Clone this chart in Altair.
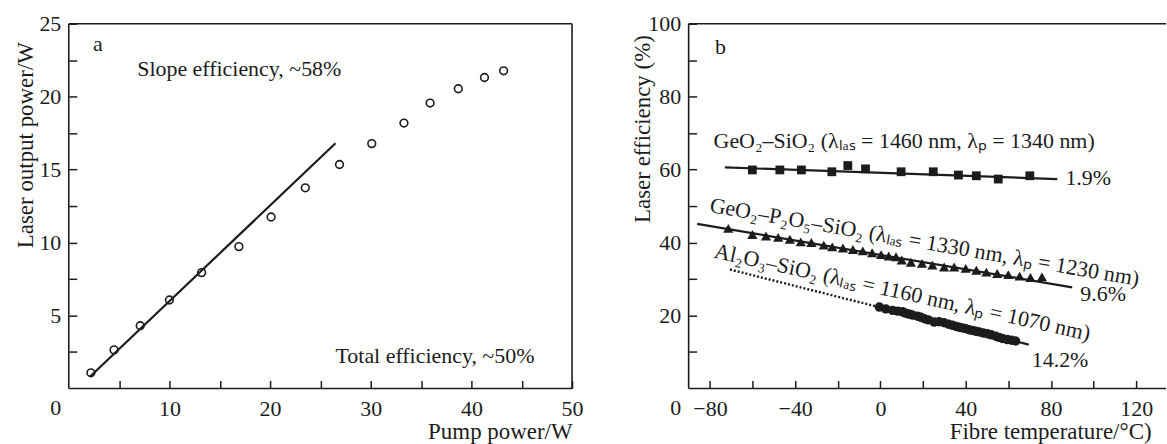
import altair as alt
import pandas as pd

FONT = "Liberation Serif"
INK = "#1c1c1c"

# ---------------- panel a ----------------
pump_power = [2.2, 4.5, 7.1, 10.0, 13.2, 16.9, 20.1, 23.5, 26.9, 30.1, 33.3, 35.9, 38.7, 41.3, 43.2]
laser_output = [1.07, 2.64, 4.30, 6.06, 7.94, 9.72, 11.75, 13.75, 15.35, 16.78, 18.19, 19.56, 20.54, 21.31, 21.77]
fit_a_x = [2.1, 26.5]
fit_a_y = [0.8, 16.8]
a_xticks = [5, 10, 15, 20, 25, 30, 35, 40, 45, 50]
a_yticks = [2.5, 5, 7.5, 10, 12.5, 15, 17.5, 20, 22.5, 25]
a_text = ["a", "Slope efficiency, ~58%", "Total efficiency, ~50%"]
a_text_x = [2.4, 6.8, 26.5]
a_text_y = [23.1, 21.4, 1.75]

# ---------------- panel b ----------------
geo_t = [-60.1, -47.2, -37.1, -22.8, -15.3, -7.0, 9.7, 24.8, 36.6, 45.0, 55.3, 70.1]
geo_eff = [59.9, 59.9, 59.9, 59.4, 61.1, 60.2, 59.4, 59.4, 58.5, 58.3, 57.4, 58.3]
geo_fit_t = [-73.0, 83.0]
geo_fit_eff = [60.6, 57.4]

gps_t = [-71.4, -60.1, -53.7, -48.0, -42.5, -37.4, -32.4, -26.6, -22.6, -17.6, -12.9, -8.3, -3.9,
         0.3, 3.9, 7.3, 10.0, 14.3, 19.5, 24.4, 29.9, 34.6, 40.0, 45.0, 49.7, 54.8, 60.0, 65.3, 70.4, 75.8]
gps_eff = [43.9, 42.2, 41.8, 41.4, 40.9, 40.2, 40.0, 39.3, 38.8, 38.5, 38.1, 37.7, 37.2,
           36.7, 36.3, 36.1, 35.2, 34.6, 34.3, 33.8, 33.3, 33.3, 32.9, 32.4, 31.9, 31.5, 31.2, 30.8, 30.4, 30.6]
gps_fit_t = [-86.0, 90.0]
gps_fit_eff = [45.1, 27.7]

al_t = [-0.5, 2.5, 5.7, 8.1, 10.4, 11.5, 12.8, 14.0, 15.1, 17.4, 19.0, 20.6, 22.5, 25.2, 27.5,
        29.9, 32.0, 33.8, 35.5, 36.9, 38.5, 40.0, 41.5, 43.1, 44.7, 46.3, 48.2, 50.1, 52.0, 54.1,
        55.6, 57.2, 59.5, 61.5, 63.4]
al_eff = [22.3, 21.8, 21.4, 21.2, 21.0, 20.7, 20.5, 20.3, 20.1, 19.8, 19.5, 19.1, 18.8, 18.2, 18.3,
          18.0, 17.6, 17.3, 17.0, 16.8, 16.6, 16.4, 16.1, 15.9, 15.7, 15.5, 15.2, 15.0, 14.7, 14.3,
          14.0, 13.7, 13.4, 13.2, 13.0]
al_dot_t = [-70.6, -0.8]
al_dot_eff = [32.6, 22.3]
al_fit_t = [-0.8, 69.6]
al_fit_eff = [22.3, 12.0]

b_xticks = [-80, -60, -40, -20, 0, 20, 40, 60, 80, 100, 120]
b_yticks = [10, 20, 30, 40, 50, 60, 70, 80, 90, 100]
b_text = ["b", "GeO₂–SiO₂ (λₗₐₛ = 1460 nm, λₚ = 1340 nm)", "1.9%", "9.6%", "14.2%"]
b_text_x = [-77.6, -78.3, 86.8, 93.8, 71.0]
b_text_y = [91.8, 65.9, 55.7, 24.0, 5.8]
b_rot_text = ["GeO₂–P₂O₅–SiO₂ (λₗₐₛ = 1330 nm, λₚ = 1230 nm)",
              "Al₂O₃–SiO₂ (λₗₐₛ = 1160 nm, λₚ = 1070 nm)"]
b_rot_x = [-80.5, -78.4]
b_rot_y = [48.4, 35.9]
b_rot_angle = [9.8, 12.5]

W1, W2, H = 505, 479, 366
one = pd.DataFrame({"t": ["0"]})


def frame(w, h, sides):
    layers = []
    for s in sides:
        if s == "top":
            enc = dict(x=alt.value(0), x2=alt.value(w), y=alt.value(0))
        elif s == "bottom":
            enc = dict(x=alt.value(0), x2=alt.value(w), y=alt.value(h))
        elif s == "left":
            enc = dict(x=alt.value(0), y=alt.value(0), y2=alt.value(h))
        else:
            enc = dict(x=alt.value(w), y=alt.value(0), y2=alt.value(h))
        layers.append(alt.Chart(one).mark_rule(color=INK, strokeWidth=1.6).encode(**enc))
    return layers


def zero_label():
    return alt.Chart(one).mark_text(font=FONT, fontSize=22, color=INK, align="center",
                                    baseline="alphabetic").encode(
        x=alt.value(-13), y=alt.value(H + 27), text="t:N")


# ---------- panel a chart ----------
ax_a = alt.Axis(values=a_xticks, labelExpr="datum.value % 10 == 0 ? datum.label : ''",
                title="Pump power/W", titleAlign="right", titleBaseline="alphabetic",
                titleX=W1, titleY=58, labelPadding=10, labelFlush=False)
ay_a = alt.Axis(values=a_yticks, labelExpr="datum.value % 5 == 0 ? datum.label : ''",
                title="Laser output power/W", titleAlign="right", titleBaseline="middle",
                titleX=-51, titleY=18, labelPadding=8)

df_a = pd.DataFrame({"x": pump_power, "y": laser_output})
pts_a = alt.Chart(df_a).mark_point(shape="circle", filled=False, size=60, strokeWidth=1.6,
                                   color=INK, opacity=1).encode(
    x=alt.X("x:Q", scale=alt.Scale(domain=[0, 50], nice=False, zero=False), axis=ax_a),
    y=alt.Y("y:Q", scale=alt.Scale(domain=[0, 25], nice=False, zero=False), axis=ay_a))
fit_a = alt.Chart(pd.DataFrame({"x": fit_a_x, "y": fit_a_y})).mark_line(
    color=INK, strokeWidth=2.2).encode(x="x:Q", y="y:Q")
txt_a = alt.Chart(pd.DataFrame({"x": a_text_x, "y": a_text_y, "t": a_text})).mark_text(
    font=FONT, fontSize=22, color=INK, align="left", baseline="alphabetic").encode(
    x="x:Q", y="y:Q", text="t:N")

left = alt.layer(*frame(W1, H, ["top", "bottom", "left", "right"]), pts_a, fit_a, txt_a,
                 zero_label()).properties(width=W1, height=H)

# ---------- panel b chart ----------
ax_b = alt.Axis(values=b_xticks,
                labelExpr="datum.value % 40 == 0 ? (datum.value < 0 ? '\u2212' + abs(datum.value) : datum.label) : ''",
                title="Fibre temperature/°C)", titleAlign="right", titleBaseline="alphabetic",
                titleX=1152 - 688, titleY=58, labelPadding=10, labelFlush=False)
ay_b = alt.Axis(values=b_yticks, labelExpr="datum.value % 20 == 0 ? datum.label : ''",
                title="Laser efficiency (%)", titleAlign="right", titleBaseline="middle",
                titleX=-54, titleY=11, labelPadding=8)

xs_b = alt.Scale(domain=[-90, 134], nice=False, zero=False)
ys_b = alt.Scale(domain=[0, 100], nice=False, zero=False)

geo = alt.Chart(pd.DataFrame({"x": geo_t, "y": geo_eff})).mark_point(
    shape="square", filled=True, size=78, color=INK, opacity=1).encode(
    x=alt.X("x:Q", scale=xs_b, axis=ax_b), y=alt.Y("y:Q", scale=ys_b, axis=ay_b))
geo_fit = alt.Chart(pd.DataFrame({"x": geo_fit_t, "y": geo_fit_eff})).mark_line(
    color=INK, strokeWidth=2.2).encode(x="x:Q", y="y:Q")
gps = alt.Chart(pd.DataFrame({"x": gps_t, "y": gps_eff})).mark_point(
    shape="triangle-up", filled=True, size=105, color=INK, opacity=1).encode(x="x:Q", y="y:Q")
gps_fit = alt.Chart(pd.DataFrame({"x": gps_fit_t, "y": gps_fit_eff})).mark_line(
    color=INK, strokeWidth=2.2).encode(x="x:Q", y="y:Q")
al = alt.Chart(pd.DataFrame({"x": al_t, "y": al_eff})).mark_point(
    shape="circle", filled=True, size=90, color=INK, opacity=1).encode(x="x:Q", y="y:Q")
al_fit = alt.Chart(pd.DataFrame({"x": al_fit_t, "y": al_fit_eff})).mark_line(
    color=INK, strokeWidth=2.2).encode(x="x:Q", y="y:Q")
al_dot = alt.Chart(pd.DataFrame({"x": al_dot_t, "y": al_dot_eff})).mark_line(
    color=INK, strokeWidth=2.4, strokeDash=[2, 2]).encode(x="x:Q", y="y:Q")
txt_b = alt.Chart(pd.DataFrame({"x": b_text_x, "y": b_text_y, "t": b_text})).mark_text(
    font=FONT, fontSize=22, color=INK, align="left", baseline="alphabetic").encode(
    x="x:Q", y="y:Q", text="t:N")
rot_layers = []
for i in range(len(b_rot_text)):
    rot_layers.append(
        alt.Chart(pd.DataFrame({"x": [b_rot_x[i]], "y": [b_rot_y[i]], "t": [b_rot_text[i]]})).mark_text(
            font=FONT, fontSize=22, color=INK, align="left", baseline="alphabetic",
            angle=b_rot_angle[i]).encode(x="x:Q", y="y:Q", text="t:N"))

right = alt.layer(*frame(W2, H, ["top", "bottom", "left"]), geo, geo_fit, gps, gps_fit, al_dot,
                  al_fit, al, txt_b, *rot_layers, zero_label()).properties(width=W2, height=H)

chart = alt.hconcat(left, right, spacing=48).properties(
    padding={"left": 14, "top": 12, "right": 0, "bottom": 0}
).configure_view(stroke=None).configure_axis(
    grid=False, domain=False, offset=-8, tickSize=8, tickWidth=1.5, tickColor=INK,
    labelFont=FONT, labelFontSize=22, labelColor=INK,
    titleFont=FONT, titleFontSize=23, titleFontWeight="normal", titleColor=INK
)

chart.save("out.html", embed_options={"renderer": "svg", "actions": False})
